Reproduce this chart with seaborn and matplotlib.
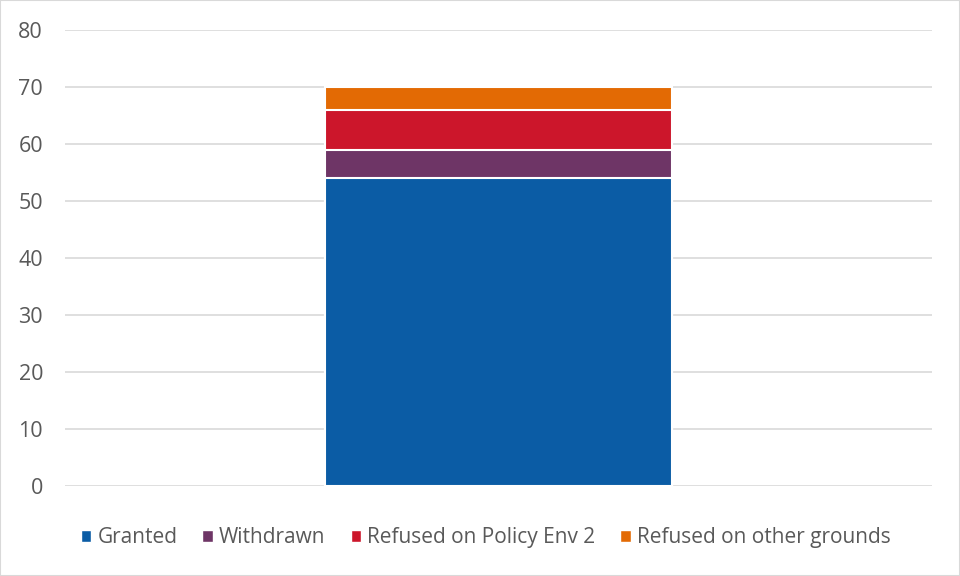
import numpy as np
import pandas as pd
import seaborn as sns
import matplotlib.pyplot as plt
from matplotlib.patches import Patch

series = ['Granted', 'Withdrawn', 'Refused on Policy Env 2', 'Refused on other grounds']
values = [54, 5, 7, 4]
colors = ['#0B5CA5', '#6E3566', '#CC162B', '#E36A04']
category = ['']

sns.set_theme(style='white')
plt.rcParams['font.family'] = ['Open Sans', 'DejaVu Sans']

fig = plt.figure(figsize=(9.6, 5.76), dpi=100)
ax = fig.add_axes([0.068, 0.156, 0.903, 0.792])

cum = np.cumsum(values)
# draw the tallest stack first, then cover it with the lower parts
for i in range(len(series) - 1, -1, -1):
    df = pd.DataFrame({'cat': category, 'val': [cum[i]]})
    sns.barplot(data=df, x='cat', y='val', color=colors[i], width=0.4,
                edgecolor='white', linewidth=1.5, saturation=1, ax=ax, zorder=3)

ax.set_ylim(0, 80)
ax.set_yticks(range(0, 81, 10))
ax.set_xlim(-0.5, 0.5)
ax.yaxis.grid(True, color='#D9D9D9', linewidth=1.2, zorder=0)
ax.set_axisbelow(True)
for s in ax.spines.values():
    s.set_visible(False)
ax.set_xlabel('')
ax.set_ylabel('')
ax.set_xticks([])
ax.tick_params(axis='y', colors='#595959', labelsize=15.5, length=0, pad=16)

handles = [Patch(facecolor=c, label=s) for s, c in zip(series, colors)]
fig.legend(handles=handles, loc='center', bbox_to_anchor=(0.506, 0.066), ncol=4,
           frameon=False, fontsize=15, labelcolor='#595959', handlelength=0.5,
           handleheight=0.5, handletextpad=0.3, columnspacing=1.2)

fig.patches.append(plt.Rectangle((0, 0), 1, 1, transform=fig.transFigure,
                                 fill=False, edgecolor='#D9D9D9', linewidth=1.5))

fig.savefig('out.png', dpi=100)
